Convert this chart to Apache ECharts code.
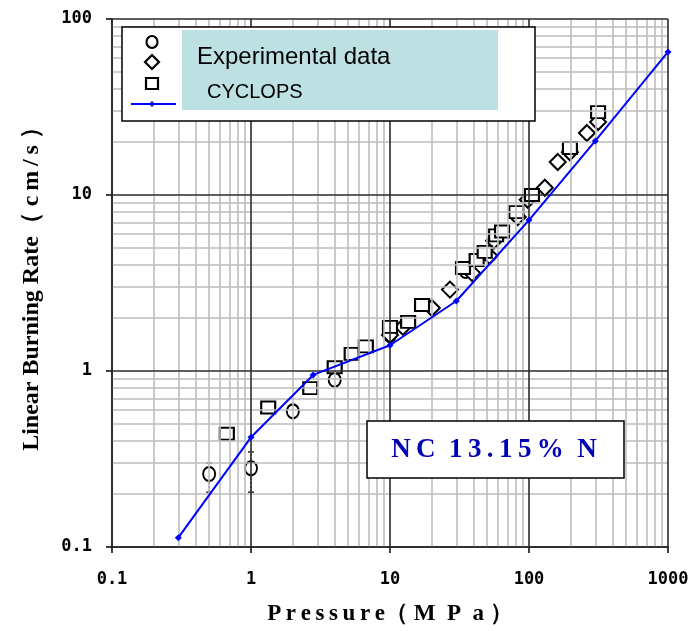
<!DOCTYPE html>
<html>
<head>
<meta charset="utf-8">
<script src="https://cdn.jsdelivr.net/npm/echarts@6.0.0/dist/echarts.min.js"></script>
<style>
html, body { margin: 0; padding: 0; background: #fff; }
#main { width: 692px; height: 631px; }
</style>
</head>
<body>
<div id="main"></div>
<script>
// data: [pressure MPa, burning rate cm/s]
var circleData = [[0.5, 0.26], [1, 0.28], [2, 0.59], [4, 0.89], [10, 1.6], [35, 3.7]];
var circleErr = [[0.5, 0.205, 0.30], [1, 0.205, 0.347], [4, 0.84, 0.95]];
var diamondData = [[10, 1.6], [12.4, 1.78], [20, 2.28], [27, 2.9], [39, 3.6], [52, 4.5],
    [56, 5.5], [83, 7.5], [98, 9.4], [130, 11], [161, 15.4], [197, 17.5], [261, 22.5], [314, 26]];
var squareData = [[0.67, 0.44], [1.33, 0.62], [2.67, 0.8], [4, 1.05], [5.3, 1.25], [6.7, 1.38],
    [10, 1.78], [13.5, 1.9], [17, 2.37], [33.5, 3.85], [42, 4.27], [48, 4.75], [58, 5.9],
    [64, 6.2], [81, 8], [105, 10], [197, 18.5], [314, 29.6]];
var cyclopsData = [[0.3, 0.113], [1, 0.42], [2.8, 0.95], [10, 1.4], [30, 2.5], [100, 7.2], [300, 20.3], [1000, 65]];

var xMajor = [0.1, 1, 10, 100, 1000];
var yMajor = [0.1, 1, 10, 100];

// minor grid values 2..9 in each decade
function minors(major) {
    var out = [];
    for (var i = 0; i < major.length - 1; i++) {
        for (var k = 2; k <= 9; k++) out.push(+(major[i] * k).toPrecision(6));
    }
    return out;
}
var xMinor = minors(xMajor);
var yMinor = minors(yMajor);

// spread letters a little (the original text is tracked out)
function spaced(s, sep) { return s.split('').join(sep || '\u2009'); }

var dom = document.getElementById('main');
var myChart = echarts.init(dom);

function fmt(v) { return String(parseFloat(v.toPrecision(6))); }

var gridLines = function (xs, ys, color, width) {
    var d = [];
    xs.forEach(function (v) { d.push({ xAxis: v }); });
    ys.forEach(function (v) { d.push({ yAxis: v }); });
    return {
        silent: true, symbol: 'none', animation: false,
        label: { show: false },
        lineStyle: { color: color, width: width, type: 'solid' },
        data: d
    };
};

var markerStyle = { color: '#000', borderColor: '#000', borderWidth: 2.2, opacity: 1 };

var option = {
    animation: false,
    grid: { left: 112, right: 24, top: 19, bottom: 84 },
    xAxis: {
        type: 'log', logBase: 10, min: 0.1, max: 1000,
        name: spaced('Pressure') + '（ ' + spaced('MPa', '\u2002') + ' ）',
        nameLocation: 'middle', nameGap: 56,
        nameTextStyle: { fontFamily: 'Liberation Serif', fontWeight: 'bold', fontSize: 23, color: '#000' },
        axisLine: { lineStyle: { color: '#000', width: 1.5 } },
        axisTick: { show: true, length: 6, lineStyle: { color: '#000', width: 1.5 } },
        axisLabel: { margin: 24, formatter: fmt, fontFamily: 'DejaVu Sans Mono', fontWeight: 'bold', fontSize: 17, color: '#000' },
        splitLine: { show: false },
        minorTick: { show: false }
    },
    yAxis: {
        type: 'log', logBase: 10, min: 0.1, max: 100,
        name: 'Linear Burning Rate（ ' + spaced('cm/s', '\u2009') + ' ）',
        nameLocation: 'middle', nameGap: 68, nameRotate: 90,
        nameTextStyle: { fontFamily: 'Liberation Serif', fontWeight: 'bold', fontSize: 24, color: '#000' },
        axisLine: { lineStyle: { color: '#000', width: 1.5 } },
        axisTick: { show: true, length: 6, lineStyle: { color: '#000', width: 1.5 } },
        axisLabel: { margin: 20, formatter: fmt, fontFamily: 'DejaVu Sans Mono', fontWeight: 'bold', fontSize: 17, color: '#000' },
        splitLine: { show: false }
    },
    graphic: [
        { type: 'rect', z: 100, shape: { x: 122, y: 27, width: 413, height: 94 },
          style: { fill: '#fff', stroke: '#000', lineWidth: 1.5 } },
        { type: 'rect', z: 101, shape: { x: 182, y: 30, width: 316, height: 80 },
          style: { fill: '#bde1e3' } },
        { type: 'text', z: 102, x: 197, y: 57,
          style: { text: 'Experimental data', fontFamily: 'Liberation Sans', fontSize: 24, fill: '#000', verticalAlign: 'middle' } },
        { type: 'text', z: 102, x: 207, y: 92,
          style: { text: 'CYCLOPS', fontFamily: 'Liberation Sans', fontSize: 20, fill: '#000', verticalAlign: 'middle' } },
        { type: 'ellipse', z: 102, shape: { cx: 152, cy: 42, rx: 5.5, ry: 6 },
          style: { fill: 'none', stroke: '#000', lineWidth: 2.2 } },
        { type: 'polygon', z: 102, shape: { points: [[152, 55], [159, 62], [152, 69], [145, 62]] },
          style: { fill: 'none', stroke: '#000', lineWidth: 2.2 } },
        { type: 'rect', z: 102, shape: { x: 146, y: 78, width: 12, height: 11 },
          style: { fill: 'none', stroke: '#000', lineWidth: 2.2 } },
        { type: 'line', z: 102, shape: { x1: 131, y1: 104, x2: 176, y2: 104 },
          style: { stroke: '#0000ff', lineWidth: 2 } },
        { type: 'polygon', z: 102, shape: { points: [[152, 101], [155, 104], [152, 107], [149, 104]] },
          style: { fill: '#0000ff' } },
        { type: 'rect', z: 100, shape: { x: 367, y: 421, width: 257, height: 57 },
          style: { fill: '#fff', stroke: '#000', lineWidth: 1.5 } },
        { type: 'text', z: 102, x: 494, y: 450,
          style: { text: spaced('NC') + '  ' + spaced('13.15%') + '  N', fontFamily: 'Liberation Serif', fontWeight: 'bold', fontSize: 27,
                   fill: '#0000b4', align: 'center', verticalAlign: 'middle' } }
    ],
    series: [
        { name: 'minorGrid', type: 'line', data: [], z: 1, markLine: gridLines(xMinor, yMinor, '#bdbdbd', 1.6) },
        { name: 'majorGrid', type: 'line', data: [], z: 2, markLine: gridLines(xMajor, yMajor, '#2a2a2a', 1.6) },
        {
            name: 'errors', type: 'custom', z: 3, data: circleErr,
            renderItem: function (params, api) {
                var x = api.value(0);
                var lo = api.coord([x, api.value(1)]);
                var hi = api.coord([x, api.value(2)]);
                var cs = { stroke: '#000', lineWidth: 1.2 };
                return { type: 'group', children: [
                    { type: 'line', shape: { x1: lo[0], y1: lo[1], x2: hi[0], y2: hi[1] }, style: { stroke: '#000', lineWidth: 1.2, lineDash: [2, 2] } },
                    { type: 'line', shape: { x1: lo[0] - 3, y1: lo[1], x2: lo[0] + 3, y2: lo[1] }, style: cs },
                    { type: 'line', shape: { x1: hi[0] - 3, y1: hi[1], x2: hi[0] + 3, y2: hi[1] }, style: cs }
                ] };
            }
        },
        { name: 'Experimental data (o)', type: 'scatter', z: 4, data: circleData, symbol: 'emptyCircle', symbolSize: [12, 14],
          itemStyle: markerStyle },
        { name: 'Experimental data (d)', type: 'scatter', z: 4, data: diamondData, symbol: 'emptyDiamond', symbolSize: [16, 16],
          itemStyle: markerStyle },
        { name: 'Experimental data (s)', type: 'scatter', z: 4, data: squareData, symbol: 'emptyRect', symbolSize: [14, 12],
          itemStyle: { color: '#000', borderColor: '#000', borderWidth: 2.4, opacity: 1 } },
        { name: 'CYCLOPS', type: 'line', z: 5, data: cyclopsData, symbol: 'diamond', symbolSize: 7,
          lineStyle: { color: '#0000ff', width: 2 }, itemStyle: { color: '#0000ff' } }
    ]
};

if (option && typeof option === "object") {
    myChart.setOption(option, true);
}
</script>
</body>
</html>
